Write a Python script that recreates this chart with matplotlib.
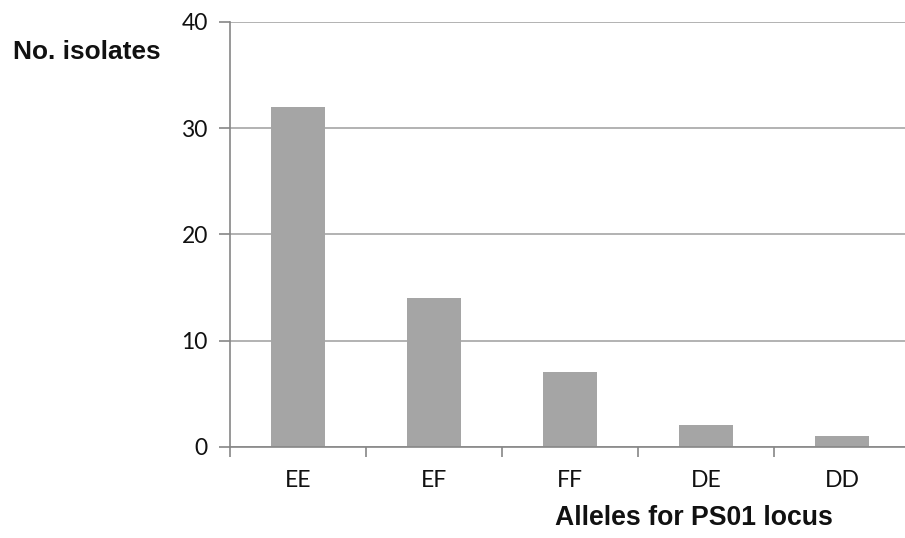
import matplotlib
matplotlib.use("Agg")
import matplotlib.pyplot as plt
import numpy as np

categories = ["EE", "EF", "FF", "DE", "DD"]
counts = [32, 14, 7, 2, 1]
y_ticks = [0, 10, 20, 30, 40]

W, H = 905, 538
fig = plt.figure(figsize=(W / 100, H / 100), dpi=100)
fig.patch.set_facecolor("white")

left, right = 230, 910
bottom, top = 538 - 446.7, 538 - 22
ax = fig.add_axes([left / W, bottom / H, (right - left) / W, (top - bottom) / H])

x = np.arange(len(categories))
ax.bar(x, counts, width=0.39, color="#a5a5a5", zorder=3)
ax.set_xlim(-0.5, len(categories) - 0.5)
ax.set_ylim(0, 40)
ax.set_yticks(y_ticks)
ax.set_yticklabels([str(v) for v in y_ticks])
ax.yaxis.grid(True, color="#a6a6a6", linewidth=1.2, zorder=0)
ax.set_xticks(np.arange(len(categories) + 1) - 0.5)
ax.set_xticklabels([])
ax.set_xticks(x, minor=True)
ax.set_xticklabels(categories, minor=True)
ax.tick_params(axis="x", which="minor", length=0, pad=17, labelsize=16.5, colors="#111111")
ax.tick_params(axis="x", which="major", length=7, width=1.2, color="#868686")
ax.tick_params(axis="y", length=8, width=1.2, color="#868686", pad=8, labelsize=16.5, labelcolor="#111111")
for lbl in ax.get_xticklabels(minor=True) + ax.get_yticklabels():
    lbl.set_fontfamily("Lato")

for s in ["top", "right"]:
    ax.spines[s].set_visible(False)
for s in ["left", "bottom"]:
    ax.spines[s].set_color("#868686")
    ax.spines[s].set_linewidth(1.2)
    ax.spines[s].set_zorder(4)

fig.text(13 / W, 1 - 52 / H, "No. isolates", fontfamily="Liberation Sans",
         fontweight="bold", fontsize=18.9, ha="left", va="center", color="#111111")
fig.text(694 / W, 1 - 518 / H, "Alleles for PS01 locus", fontfamily="Liberation Sans",
         fontweight="bold", fontsize=19.2, ha="center", va="center", color="#111111")

fig.savefig("out.png", dpi=100)
